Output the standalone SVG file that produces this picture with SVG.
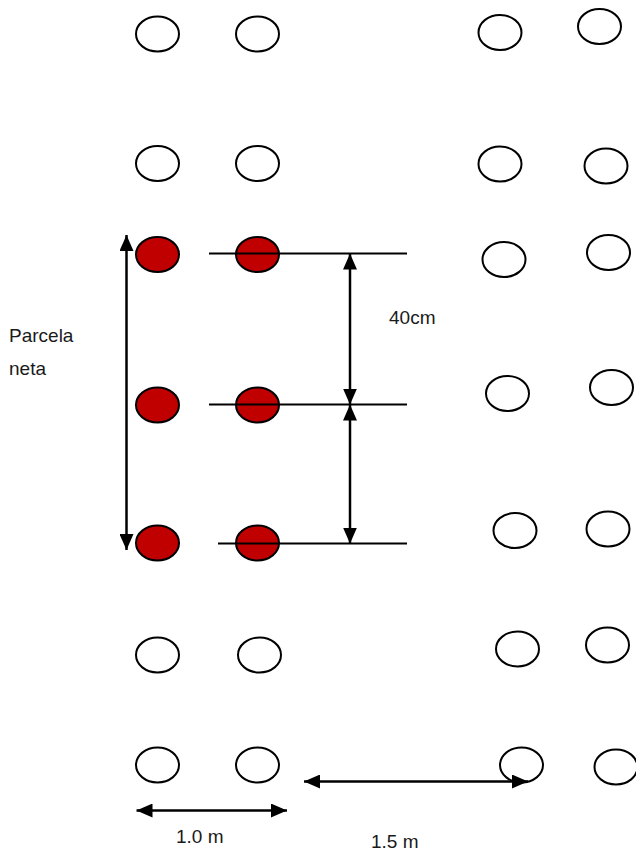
<svg xmlns="http://www.w3.org/2000/svg" width="636" height="855" viewBox="0 0 636 855">
<defs>
<marker id="ah" viewBox="0 0 16 14" refX="16" refY="7" markerWidth="16" markerHeight="14" markerUnits="userSpaceOnUse" orient="auto-start-reverse">
<path d="M0,0 L16,7 L0,14 z" fill="#000"/>
</marker>
<style>
.p{fill:#fff;stroke:#000;stroke-width:2}
.r{fill:#C00000;stroke:#000;stroke-width:2}
.ln{stroke:#000;stroke-width:2;fill:none}
.ar{stroke:#000;stroke-width:2.5;fill:none}
.t{font-family:"Liberation Sans",Arial,sans-serif;font-size:19px;fill:#1a1a1a}
</style>
</defs>
<rect width="636" height="855" fill="#fff"/>
<g id="plants-left">
<g id="p1"><ellipse class="p" cx="157.5" cy="34" rx="21.5" ry="17.5"/></g>
<g id="p2"><ellipse class="p" cx="257.5" cy="34" rx="21.5" ry="17.5"/></g>
<g id="p3"><ellipse class="p" cx="157.5" cy="163.5" rx="21.5" ry="17.5"/></g>
<g id="p4"><ellipse class="p" cx="257.5" cy="163.5" rx="21.5" ry="17.5"/></g>
<g id="r1"><ellipse class="r" cx="157.5" cy="254.5" rx="21.5" ry="17.5"/></g>
<g id="r2"><ellipse class="r" cx="257.5" cy="254.5" rx="21.5" ry="17.5"/></g>
<g id="r3"><ellipse class="r" cx="157.5" cy="405" rx="21.5" ry="17.5"/></g>
<g id="r4"><ellipse class="r" cx="257.5" cy="405" rx="21.5" ry="17.5"/></g>
<g id="r5"><ellipse class="r" cx="157.5" cy="543" rx="21.5" ry="17.5"/></g>
<g id="r6"><ellipse class="r" cx="257.5" cy="543" rx="21.5" ry="17.5"/></g>
<g id="p5"><ellipse class="p" cx="157.5" cy="655" rx="21.5" ry="17.5"/></g>
<g id="p6"><ellipse class="p" cx="259.5" cy="655" rx="21.5" ry="17.5"/></g>
<g id="p7"><ellipse class="p" cx="157.5" cy="765" rx="21.5" ry="17.5"/></g>
<g id="p8"><ellipse class="p" cx="257.5" cy="765" rx="21.5" ry="17.5"/></g>
</g>
<g id="plants-right">
<g id="q1"><ellipse class="p" cx="500" cy="32.5" rx="21.5" ry="17.5"/></g>
<g id="q2"><ellipse class="p" cx="599.5" cy="26.5" rx="21.5" ry="17.5"/></g>
<g id="q3"><ellipse class="p" cx="500" cy="164" rx="21.5" ry="17.5"/></g>
<g id="q4"><ellipse class="p" cx="606" cy="166" rx="21.5" ry="17.5"/></g>
<g id="q5"><ellipse class="p" cx="504" cy="259.5" rx="21.5" ry="17.5"/></g>
<g id="q6"><ellipse class="p" cx="608.5" cy="252.5" rx="21.5" ry="17.5"/></g>
<g id="q7"><ellipse class="p" cx="507.5" cy="393.5" rx="21.5" ry="17.5"/></g>
<g id="q8"><ellipse class="p" cx="611.5" cy="387.5" rx="21.5" ry="17.5"/></g>
<g id="q9"><ellipse class="p" cx="515" cy="530.5" rx="21.5" ry="17.5"/></g>
<g id="q10"><ellipse class="p" cx="608" cy="529" rx="21.5" ry="17.5"/></g>
<g id="q11"><ellipse class="p" cx="517.5" cy="649" rx="21.5" ry="17.5"/></g>
<g id="q12"><ellipse class="p" cx="607.5" cy="645" rx="21.5" ry="17.5"/></g>
<g id="q13"><ellipse class="p" cx="521.5" cy="765" rx="21.5" ry="17.5"/></g>
<g id="q14"><ellipse class="p" cx="616" cy="767" rx="21.5" ry="17.5"/></g>
</g>
<g id="connectors">
<line class="ln" x1="209" y1="253.5" x2="407" y2="253.5"/>
<line class="ln" x1="209" y1="404.5" x2="407" y2="404.5"/>
<line class="ln" x1="218" y1="543.5" x2="407" y2="543.5"/>
<line class="ar" x1="126.5" y1="235" x2="126.5" y2="550" marker-start="url(#ah)" marker-end="url(#ah)"/>
<line class="ar" x1="350" y1="253.5" x2="350" y2="404.5" marker-start="url(#ah)" marker-end="url(#ah)"/>
<line class="ar" x1="350" y1="404.5" x2="350" y2="543.5" marker-start="url(#ah)" marker-end="url(#ah)"/>
<line class="ar" x1="136.5" y1="810.5" x2="287" y2="810.5" marker-start="url(#ah)" marker-end="url(#ah)"/>
<line class="ar" x1="304" y1="781.5" x2="528" y2="781.5" marker-start="url(#ah)" marker-end="url(#ah)"/>
</g>
<g id="labels">
<text class="t" x="9" y="342">Parcela</text>
<text class="t" x="9" y="375">neta</text>
<text class="t" x="389" y="324">40cm</text>
<text class="t" x="176" y="843">1.0 m</text>
<text class="t" x="371" y="848">1.5 m</text>
</g>
</svg>
